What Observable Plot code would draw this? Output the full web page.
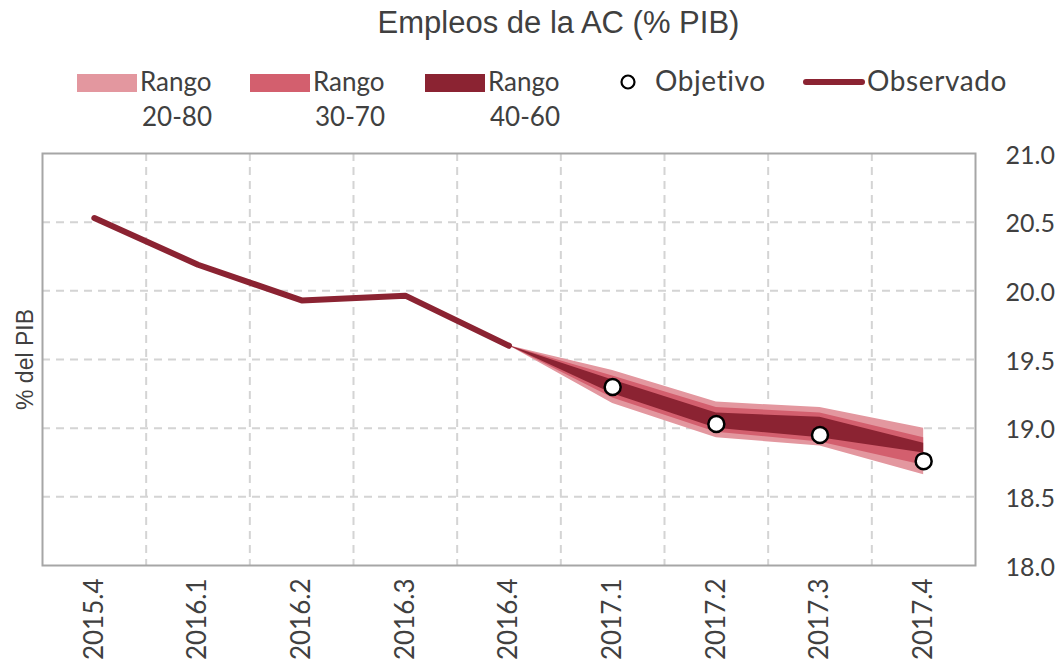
<!DOCTYPE html>
<html>
<head>
<meta charset="utf-8">
<script src="https://cdn.jsdelivr.net/npm/d3@7"></script>
<script src="https://cdn.jsdelivr.net/npm/@observablehq/plot@0.6"></script>
<style>
  body { margin: 0; background: #fff; }
  #wrap { position: relative; width: 1059px; height: 668px; overflow: hidden; }
  #title { position: absolute; left: 0; width: 1117px; top: 5px; text-align: center;
           font-family: "Liberation Sans", Arial, sans-serif; font-size: 31px; color: #404040; }
  .lg { position: absolute; font-family: Lato, sans-serif; font-size: 26px; color: #404040; line-height: 35px; white-space: nowrap; }
  .lg.wide { font-size: 28px; letter-spacing: 0.6px; top: 63px; }
  .sw { position: absolute; height: 18px; width: 60px; }
  #chart { position: absolute; left: 0; top: 0; }
</style>
</head>
<body>
<div id="wrap">
  <div id="chart"></div>
  <div id="title">Empleos de la AC (% PIB)</div>
  <div id="legend"></div>
</div>
<script>
// ---- data ----
const categories = ["2015.4","2016.1","2016.2","2016.3","2016.4","2017.1","2017.2","2017.3","2017.4"];
const observedCats = ["2015.4","2016.1","2016.2","2016.3","2016.4"];
const observedValues = [20.53, 20.19, 19.93, 19.965, 19.60];
const fanCats = ["2016.4","2017.1","2017.2","2017.3","2017.4"];
const p20 = [19.60, 19.18, 18.93, 18.87, 18.66];
const p30 = [19.60, 19.22, 18.97, 18.90, 18.73];
const p40 = [19.60, 19.25, 19.00, 18.93, 18.82];
const p60 = [19.60, 19.35, 19.11, 19.08, 18.89];
const p70 = [19.60, 19.38, 19.15, 19.11, 18.93];
const p80 = [19.60, 19.42, 19.19, 19.15, 19.00];
const objetivoCats = ["2017.1","2017.2","2017.3","2017.4"];
const objetivoValues = [19.30, 19.03, 18.95, 18.76];
const yTicks = [18.0, 18.5, 19.0, 19.5, 20.0, 20.5, 21.0];
const legendItems = [
  {type: "swatch", label: ["Rango", "20-80"], color: "#E3979F"},
  {type: "swatch", label: ["Rango", "30-70"], color: "#D35F6E"},
  {type: "swatch", label: ["Rango", "40-60"], color: "#8B2332"},
  {type: "dot", label: ["Objetivo"]},
  {type: "line", label: ["Observado"], color: "#8B2332"}
];

const colLight = "#E3979F", colMid = "#D35F6E", colDark = "#8B2332";
const idx = c => categories.indexOf(c);

const observed = observedCats.map((c, i) => ({x: idx(c), y: observedValues[i]}));
const fan = fanCats.map((c, i) => ({x: idx(c), p20: p20[i], p30: p30[i], p40: p40[i], p60: p60[i], p70: p70[i], p80: p80[i]}));
const objetivo = objetivoCats.map((c, i) => ({x: idx(c), y: objetivoValues[i]}));
const n = categories.length;
const boundaries = d3.range(1, n).map(i => i - 0.5);
const yGrid = yTicks.slice(1, -1);

const grid = {stroke: "#d4d4d4", strokeWidth: 2, strokeDasharray: "8,6", strokeOpacity: 1};

const plot = Plot.plot({
  width: 1059,
  height: 668,
  marginTop: 153,
  marginBottom: 103,
  marginLeft: 42,
  marginRight: 84,
  style: {fontFamily: "Lato, sans-serif", color: "#404040", background: "transparent"},
  x: {domain: [-0.5, n - 0.5], label: null},
  y: {domain: [18, 21], label: null},
  marks: [
    Plot.ruleY(yGrid, {...grid}),
    Plot.ruleX(boundaries, {...grid}),
    Plot.areaY(fan, {x: "x", y1: "p20", y2: "p80", fill: colLight}),
    Plot.areaY(fan, {x: "x", y1: "p30", y2: "p70", fill: colMid}),
    Plot.areaY(fan, {x: "x", y1: "p40", y2: "p60", fill: colDark}),
    Plot.lineY(observed, {x: "x", y: "y", stroke: colDark, strokeWidth: 6, strokeLinecap: "round", strokeLinejoin: "round"}),
    Plot.dot(objetivo, {x: "x", y: "y", r: 8, fill: "white", stroke: "black", strokeWidth: 2.5}),
    Plot.frame({stroke: "#a6a6a6", strokeWidth: 2}),
    Plot.axisY({anchor: "right", ticks: yTicks, tickSize: 0, tickPadding: 30, fontSize: 25, label: null,
                tickFormat: d => d.toFixed(1), textAnchor: "start", dy: 2}),
    Plot.axisX({anchor: "bottom", ticks: d3.range(n), tickSize: 0, tickPadding: 13, tickRotate: -90, label: null,
                fontSize: 26, tickFormat: i => categories[i], style: {letterSpacing: "2.5px"}}),
    Plot.text(["% del PIB"], {frameAnchor: "left", dx: -17, rotate: -90, fontSize: 23, textAnchor: "middle",
                fontFamily: "Liberation Sans, Arial, sans-serif", fill: "#404040"})
  ]
});
document.getElementById("chart").appendChild(plot);

// ---- legend (HTML overlay) ----
const legend = document.getElementById("legend");
const lx = [77, 250, 425, 620, 803];
legendItems.forEach((it, i) => {
  const x0 = lx[i];
  if (it.type === "swatch") {
    const s = document.createElement("div");
    s.className = "sw";
    s.style.left = x0 + "px"; s.style.top = "74px"; s.style.background = it.color;
    legend.appendChild(s);
    const t = document.createElement("div");
    t.className = "lg";
    t.style.left = (x0 + 63) + "px"; t.style.top = "64px";
    t.innerHTML = it.label[0] + "<br><span style='padding-left:2px'>" + it.label[1] + "</span>";
    legend.appendChild(t);
  } else if (it.type === "dot") {
    const ns = "http://www.w3.org/2000/svg";
    const svg = document.createElementNS(ns, "svg");
    svg.setAttribute("width", 20); svg.setAttribute("height", 20);
    svg.style.position = "absolute"; svg.style.left = (x0) + "px"; svg.style.top = "72px";
    const c = document.createElementNS(ns, "circle");
    c.setAttribute("cx", 8); c.setAttribute("cy", 10); c.setAttribute("r", 6.5);
    c.setAttribute("fill", "white"); c.setAttribute("stroke", "black"); c.setAttribute("stroke-width", 2.2);
    svg.appendChild(c); legend.appendChild(svg);
    const t = document.createElement("div");
    t.className = "lg wide"; t.style.left = (x0 + 35) + "px";
    t.textContent = it.label[0];
    legend.appendChild(t);
  } else {
    const l = document.createElement("div");
    l.style.position = "absolute"; l.style.left = x0 + "px"; l.style.top = "79px";
    l.style.width = "62px"; l.style.height = "6px"; l.style.borderRadius = "3px"; l.style.background = it.color;
    legend.appendChild(l);
    const t = document.createElement("div");
    t.className = "lg wide"; t.style.left = (x0 + 64) + "px";
    t.textContent = it.label[0];
    legend.appendChild(t);
  }
});
</script>
</body>
</html>
